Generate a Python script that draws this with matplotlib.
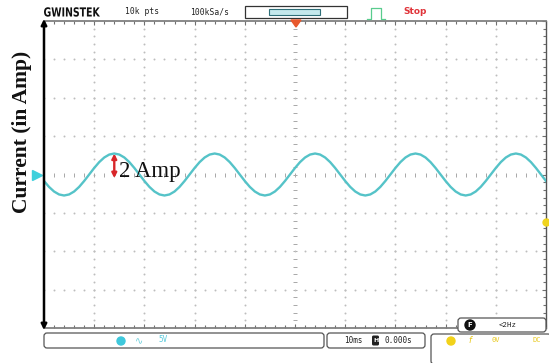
import numpy as np
import matplotlib
matplotlib.use("Agg")
import matplotlib.pyplot as plt
from matplotlib.patches import FancyBboxPatch, Rectangle, Circle, Polygon, PathPatch
from matplotlib.textpath import TextPath
from matplotlib.font_manager import FontProperties
from matplotlib.transforms import Affine2D

# ---- signal (current trace, sampled every 1 ms) ----
time_ms = list(range(0, 101))
current_a = [
    -0.62, -1.18, -1.62, -1.90, -2.00, -1.90, -1.62, -1.18, -0.62, 0.00,
    0.62, 1.18, 1.62, 1.90, 2.00, 1.90, 1.62, 1.18, 0.62, 0.00,
    -0.62, -1.18, -1.62, -1.90, -2.00, -1.90, -1.62, -1.18, -0.62, 0.00,
    0.62, 1.18, 1.62, 1.90, 2.00, 1.90, 1.62, 1.18, 0.62, 0.00,
    -0.62, -1.18, -1.62, -1.90, -2.00, -1.90, -1.62, -1.18, -0.62, 0.00,
    0.62, 1.18, 1.62, 1.90, 2.00, 1.90, 1.62, 1.18, 0.62, 0.00,
    -0.62, -1.18, -1.62, -1.90, -2.00, -1.90, -1.62, -1.18, -0.62, 0.00,
    0.62, 1.18, 1.62, 1.90, 2.00, 1.90, 1.62, 1.18, 0.62, 0.00,
    -0.62, -1.18, -1.62, -1.90, -2.00, -1.90, -1.62, -1.18, -0.62, 0.00,
    0.62, 1.18, 1.62, 1.90, 2.00, 1.90, 1.62, 1.18, 0.62, 0.00,
    -0.62,
]
peak_current_a = 2.0
peak_time_ms = 14.0
amp_label = "2 Amp"
y_label = "Current (in Amp)"

# ---- screen scales ----
ms_per_div = 10
amp_per_div = 3.655
n_div_x = 10
n_div_y = 8
ch2_level_a = -4.52

# ---- status texts ----
brand = "GWINSTEK"
record_len = "10k pts"
sample_rate = "100kSa/s"
run_state = "Stop"
ch_scale = "5V"
time_scale = "10ms"
h_pos = "0.000s"
trig_freq = "<2Hz"
trig_level = "0V"
trig_coupling = "DC"

W, H = 549, 363
fig = plt.figure(figsize=(W / 100, H / 100), dpi=100)
fig.patch.set_facecolor("white")

# scope screen
left_px, right_px, top_px, bot_px = 44, 546, 21, 328
ax = fig.add_axes([left_px / W, 1 - bot_px / H,
                   (right_px - left_px) / W, (bot_px - top_px) / H])
xmax = ms_per_div * n_div_x
ymax = amp_per_div * n_div_y / 2
ax.set_xlim(0, xmax)
ax.set_ylim(-ymax, ymax)

grid_c = "#bdbdbd"
# dotted graticule
for k in range(1, n_div_x):
    xs = np.full(n_div_y * 5 + 1, k * ms_per_div)
    ys = np.linspace(-ymax, ymax, n_div_y * 5 + 1)
    centre = k == n_div_x // 2
    ax.scatter(xs, ys, s=5 if centre else 2, marker="_" if centre else ".",
               color="#a8a8a8" if centre else grid_c, linewidths=0.7, zorder=1)
for k in range(-n_div_y // 2 + 1, n_div_y // 2):
    xs = np.linspace(0, xmax, n_div_x * 5 + 1)
    ys = np.full(xs.size, k * amp_per_div)
    centre = k == 0
    ax.scatter(xs, ys, s=5 if centre else 2, marker="|" if centre else ".",
               color="#a8a8a8" if centre else grid_c, linewidths=0.7, zorder=1)

for side in ("top", "bottom"):
    ax.spines[side].set_color("#808080")
    ax.spines[side].set_linewidth(1.3)
ax.spines["right"].set_color("#555555")
ax.spines["right"].set_linewidth(1.0)
ax.spines["left"].set_visible(False)
ax.set_xticks(np.arange(0, xmax + 0.1, ms_per_div))
ax.set_xticks(np.arange(0, xmax + 0.1, ms_per_div / 5), minor=True)
ax.set_yticks(np.arange(-ymax, ymax + 0.01, amp_per_div))
ax.set_yticks(np.linspace(-ymax, ymax, n_div_y * 5 + 1), minor=True)
ax.tick_params(which="both", direction="in", top=True, bottom=True, left=False,
               right=True, labelbottom=False, labelleft=False, color="#707070",
               width=0.8)
ax.tick_params(which="major", length=3)
ax.tick_params(which="minor", length=2)

# trace
ax.plot(time_ms, current_a, color="#55c3c8", lw=1.7, zorder=3, solid_joinstyle="round")

# channel ground marker and second level marker
ax.plot([-1.4], [0], marker=">", ms=7, color="#3fd0dc", clip_on=False, zorder=4)
ax.plot([xmax], [ch2_level_a], marker="o", ms=5, color="#f0d41e", clip_on=False, zorder=4)

# amplitude marker
ax.annotate("", xy=(peak_time_ms, peak_current_a), xytext=(peak_time_ms, -0.35),
            arrowprops=dict(arrowstyle="<|-|>", color="#d8262a", lw=1.7,
                            mutation_scale=7, shrinkA=0, shrinkB=0), zorder=5)
ax.text(peak_time_ms + 1.0, -0.2, amp_label, family="Liberation Serif", fontsize=16.5,
        color="#111111", va="baseline", ha="left", zorder=5)

# overlay for on-screen status bars
hud = fig.add_axes([0, 0, 1, 1])
hud.set_xlim(0, W)
hud.set_ylim(H, 0)
hud.axis("off")
hud.patch.set_visible(False)

# vertical axis arrow
hud.annotate("", xy=(left_px, top_px - 2), xytext=(left_px, bot_px + 2),
             arrowprops=dict(arrowstyle="<|-|>", color="black", lw=1.8,
                             mutation_scale=8, shrinkA=0, shrinkB=0))
fig.text(22 / W, 1 - 132 / H, y_label, rotation=90, family="Liberation Serif",
         fontweight="bold", fontsize=15.5, ha="center", va="center", color="#111111")

# header: condensed brand logo
logo = TextPath((0, 0), brand, size=12.5,
                prop=FontProperties(family="DejaVu Sans", weight="bold"))
lb = logo.get_extents()
sx = 56 / lb.width
logo_tf = Affine2D().translate(-lb.x0, 0).scale(sx, -1.0).translate(44, 16.5)
hud.add_patch(PathPatch(logo_tf.transform_path(logo), fc="#111111", ec="none"))

hud.text(125, 12, record_len, family="DejaVu Sans Mono", fontsize=5.8, va="center",
         color="#222222")
hud.text(190, 12, sample_rate, family="DejaVu Sans Mono", fontsize=5.8, va="center",
         color="#222222")
hud.add_patch(Rectangle((245, 6), 102, 12, fill=False, ec="#333333", lw=0.9))
hud.add_patch(Rectangle((269, 9), 51, 6, fc="#c4e8ec", ec="#2f6f78", lw=0.8))
hud.plot([367, 371, 371, 381, 381, 385], [19, 19, 8, 8, 19, 19], color="#59cc8e", lw=0.9)
hud.text(403, 12, run_state, family="DejaVu Sans", fontweight="bold", fontsize=6.5,
         va="center", color="#e0343a")
hud.add_patch(Polygon([(291, 20), (301, 20), (296, 27)], closed=True, color="#e8582c"))

# footer boxes
def rbox(x, y, w, h):
    hud.add_patch(FancyBboxPatch((x, y), w, h, boxstyle="round,pad=0,rounding_size=3",
                                 fc="white", ec="#555555", lw=0.9, zorder=3))

rbox(44, 333, 280, 15)
hud.add_patch(Circle((121, 341), 4, color="#3ec8dc", zorder=4))
hud.text(139, 341, "∿", family="DejaVu Sans", fontsize=7, color="#6ccfdc", ha="center",
         va="center", zorder=4)
hud.text(163, 340, ch_scale, family="DejaVu Sans Mono", fontsize=5.5, color="#5ccbdc",
         ha="center", va="center", zorder=4)

rbox(327, 333, 98, 15)
hud.text(353, 340.5, time_scale, family="DejaVu Sans Mono", fontsize=5.5, color="#222222",
         ha="center", va="center", zorder=4)
hud.add_patch(FancyBboxPatch((372, 335.5), 7, 10, boxstyle="round,pad=0,rounding_size=1.5",
                             fc="#222222", ec="none", zorder=4))
hud.text(375.5, 340.5, "H", family="DejaVu Sans", fontweight="bold", fontsize=4.5,
         color="white", ha="center", va="center", zorder=5)
hud.text(398, 340.5, h_pos, family="DejaVu Sans Mono", fontsize=5.5, color="#222222",
         ha="center", va="center", zorder=4)

rbox(431, 334, 120, 30)
hud.add_patch(Circle((451, 341), 4, color="#f2d21a", zorder=4))
hud.text(470, 340.5, "f", family="DejaVu Sans", fontstyle="italic", fontsize=6,
         color="#e8c81a", ha="center", va="center", zorder=4)
hud.text(496, 340, trig_level, family="DejaVu Sans Mono", fontsize=5, color="#e8c81a",
         ha="center", va="center", zorder=4)
hud.text(537, 340, trig_coupling, family="DejaVu Sans Mono", fontsize=5, color="#e8c81a",
         ha="center", va="center", zorder=4)

rbox(458, 318, 88, 14)
hud.add_patch(Circle((470, 325), 5, color="#111111", zorder=4))
hud.text(470, 325, "F", family="DejaVu Sans", fontweight="bold", fontsize=5,
         color="white", ha="center", va="center", zorder=5)
hud.text(508, 325, trig_freq, family="DejaVu Sans Mono", fontsize=5.3, color="#222222",
         ha="center", va="center", zorder=4)

fig.savefig("out.png", dpi=100)
